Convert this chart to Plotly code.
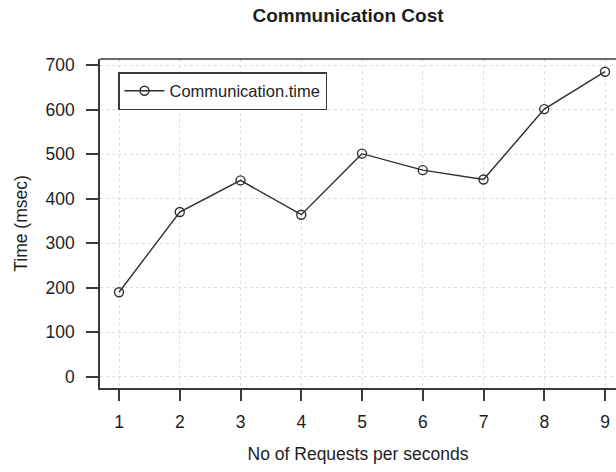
import plotly.graph_objects as go

# Communication time measured per request rate
requests = [1, 2, 3, 4, 5, 6, 7, 8, 9]
comm_time = [190, 370, 441, 364, 501, 464, 443, 601, 685]
y_ticks = [0, 100, 200, 300, 400, 500, 600, 700]

FONT = "Liberation Sans, Arial, sans-serif"
AXIS_COLOR = "#3a3a3a"
GRID_COLOR = "#dedede"

fig = go.Figure()
fig.add_trace(go.Scatter(
    x=requests,
    y=comm_time,
    mode="lines+markers",
    name="Communication.time",
    line=dict(color="#2f2f2f", width=1.4),
    marker=dict(symbol="circle-open", size=9, color="#2f2f2f",
                line=dict(width=1.4, color="#2f2f2f")),
))

# top edge of the plotting frame
fig.add_shape(type="line", xref="paper", yref="paper",
              x0=0, x1=1, y0=1, y1=1,
              line=dict(color=AXIS_COLOR, width=1.5))

fig.update_layout(
    width=616,
    height=472,
    margin=dict(l=100, r=0, t=59, b=84),
    paper_bgcolor="white",
    plot_bgcolor="white",
    font=dict(family=FONT, size=17.5, color="#1e1e1e"),
    title=dict(
        text="<b>Communication Cost</b>",
        font=dict(family=FONT, size=19, color="#1e1e1e"),
        x=0.565, xanchor="center",
        y=1 - 15 / 472, yanchor="middle", yref="container",
    ),
    showlegend=True,
    legend=dict(
        x=(118 - 100) / 516, y=(388 - 72) / 329,
        xanchor="left", yanchor="top",
        bgcolor="white",
        bordercolor=AXIS_COLOR, borderwidth=1.5,
        font=dict(family=FONT, size=16.5, color="#1e1e1e"),
        itemwidth=40,
    ),
    xaxis=dict(
        range=[0.687, 9.181],
        tickmode="array",
        tickvals=requests,
        ticks="outside", ticklen=11, tickwidth=2, tickcolor=AXIS_COLOR,
        showline=True, linecolor=AXIS_COLOR, linewidth=1.5, mirror=False,
        showgrid=True, gridcolor=GRID_COLOR, griddash="dot", gridwidth=1,
        zeroline=False,
        ticklabelstandoff=6,
        title=dict(text="No of Requests per seconds", standoff=17,
                   font=dict(family=FONT, size=17.5)),
    ),
    yaxis=dict(
        range=[-25, 713.5],
        tickmode="array",
        tickvals=y_ticks,
        ticks="outside", ticklen=12, tickwidth=2, tickcolor=AXIS_COLOR,
        showline=True, linecolor=AXIS_COLOR, linewidth=1.5, mirror=False,
        showgrid=True, gridcolor=GRID_COLOR, griddash="dot", gridwidth=1,
        zeroline=False,
        ticklabelstandoff=8,
        title=dict(text="Time (msec)", standoff=13,
                   font=dict(family=FONT, size=17.5)),
    ),
)

fig.write_html("out.html")
